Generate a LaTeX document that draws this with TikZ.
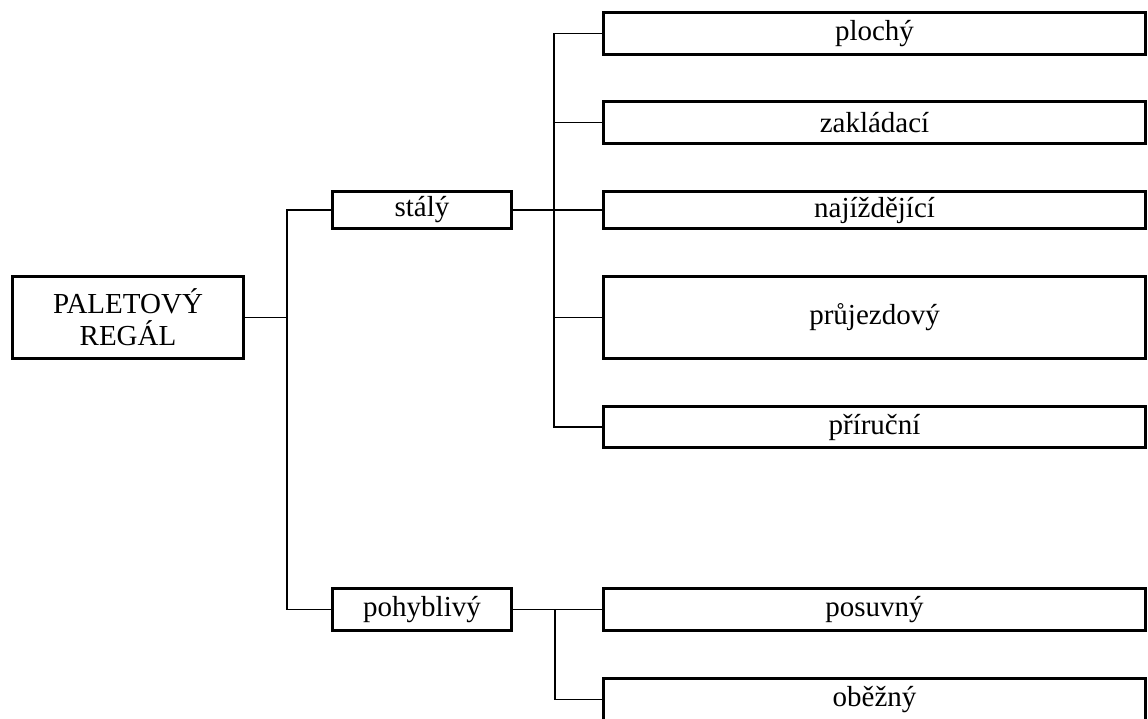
\documentclass[tikz,border=0pt]{standalone}
\usepackage{fontspec}
\setmainfont{Liberation Serif}

\begin{document}
\begin{tikzpicture}[x=1pt, y=-1pt,
    box/.style={draw, line width=3pt, inner sep=0pt, align=center,
      font=\fontsize{29}{32}\selectfont},
    conn/.style={line width=1.3pt}]
  \useasboundingbox (0,0) rectangle (1148,718);
  \clip (0,0) rectangle (1148,718); % oběžný runs off the page

  \node[box, minimum width=231pt, minimum height=82pt] (regal) at (128,317.5) {PALETOVÝ\\REGÁL};
  \node[box, minimum width=179pt, minimum height=37pt] (staly) at (422,210) {stálý};
  \node[box, minimum width=179pt, minimum height=42pt] (pohyb) at (422,609.5) {pohyblivý};

  % right column
  \foreach \n/\y/\h/\t in {plochy/33.5/42/plochý, zaklad/122.5/42/zakládací,
      najizd/210/37/najíždějící, prujezd/317.5/82/průjezdový, prirucni/427/41/příruční,
      posuvny/609.5/42/posuvný, obezny/699.5/42/oběžný} {
    \node[box, minimum width=542pt, minimum height=\h pt] (\n) at (874.5,\y) {\t};
  }

  \coordinate (trunk) at (287,317.5);
  \coordinate (sbus) at (554,210);
  \coordinate (pbus) at (555,609.5);

  \draw[conn] (regal.east) -- (trunk);
  \draw[conn] (staly.west) -| (trunk) |- (pohyb.west);
  \draw[conn] (staly.east) -- (najizd.west);
  \draw[conn] (plochy.west) -| (sbus) |- (prirucni.west);
  \foreach \n in {zaklad, prujezd} {
    \draw[conn] (sbus |- \n.west) -- (\n.west);
  }
  \draw[conn] (pohyb.east) -- (posuvny.west);
  \draw[conn] (pbus) |- (obezny.west);
\end{tikzpicture}
\end{document}
